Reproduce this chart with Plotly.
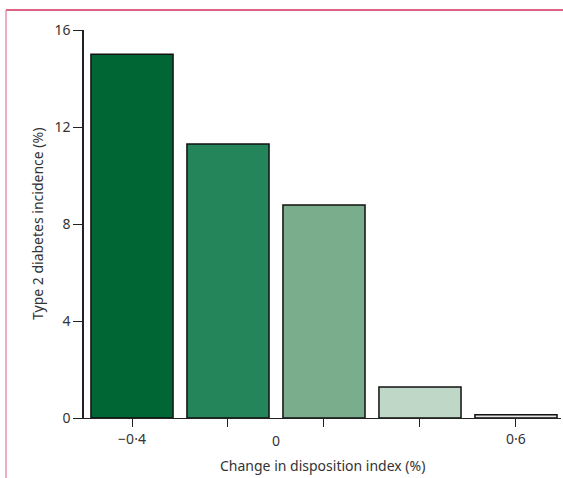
import plotly.graph_objects as go

# Data
categories = [0, 1, 2, 3, 4]
incidence = [15.0, 11.3, 8.78, 1.28, 0.13]
bar_colors = ["#006633", "#24845A", "#7AAD8C", "#BFD7C6", "#E3E6E4"]
x_tick_vals = [0, 1, 2, 3, 4]
x_tick_text = ["\u22120\u00b74", "", "", "", "0\u00b76"]
y_tick_vals = [0, 4, 8, 12, 16]

W, H = 563, 478
L, R, T, B = 84, 2, 30, 60
pw = W - L - R
ph = H - T - B

font = "Noto Sans, Open Sans, sans-serif"

fig = go.Figure()
fig.add_trace(go.Bar(
    x=categories, y=incidence, width=0.855,
    marker=dict(color=bar_colors, line=dict(color="#111111", width=1.5)),
    hoverinfo="skip", showlegend=False,
))

def px_x(px):
    return (px - L) / pw

def px_y(py):
    return (H - B - py) / ph

fig.update_layout(
    width=W, height=H,
    margin=dict(l=L, r=R, t=T, b=B),
    paper_bgcolor="white", plot_bgcolor="white",
    font=dict(family=font, size=14, color="#333333"),
    xaxis=dict(
        range=[-0.5, 4.469], tickmode="array", tickvals=x_tick_vals,
        ticktext=x_tick_text, ticks="outside", ticklen=8, tickwidth=1.2,
        tickcolor="#222222", showline=True, linecolor="#222222", linewidth=1.2,
        showgrid=False, zeroline=False, tickfont=dict(size=14, color="#333333"),
    ),
    yaxis=dict(
        range=[0, 16], tickmode="array", tickvals=y_tick_vals,
        ticks="outside", ticklen=9, tickwidth=1.2, tickcolor="#222222",
        showline=True, linecolor="#222222", linewidth=1.5, showgrid=False,
        zeroline=False, tickfont=dict(size=14, color="#333333"),
    ),
    bargap=0.15,
)

# "0" label between ticks, as in the original
fig.add_annotation(x=1.5, y=0, yref="y", xref="x", text="0", showarrow=False,
                   yshift=-22, font=dict(size=14, color="#333333"))

# axis titles
fig.add_annotation(xref="paper", yref="paper", x=px_x(322), y=px_y(465),
                   xanchor="center", yanchor="middle",
                   text="Change in disposition index (%)", showarrow=False,
                   font=dict(size=14, color="#333333"))
fig.add_annotation(xref="paper", yref="paper", x=px_x(37), y=px_y(224),
                   xanchor="center", yanchor="middle",
                   text="Type 2 diabetes incidence (%)", showarrow=False,
                   textangle=-90, font=dict(size=14, color="#333333"))

# pink frame lines
fig.add_shape(type="line", xref="paper", yref="paper",
              x0=px_x(6), x1=px_x(563), y0=px_y(10), y1=px_y(10),
              line=dict(color="#D3305A", width=1.5))
fig.add_shape(type="line", xref="paper", yref="paper",
              x0=px_x(6), x1=px_x(6), y0=px_y(10), y1=px_y(478),
              line=dict(color="#E07A98", width=1.2))

fig.write_html("out.html", config={"displayModeBar": False},
               post_script="document.body.style.margin='0px';document.body.style.overflow='hidden';")
